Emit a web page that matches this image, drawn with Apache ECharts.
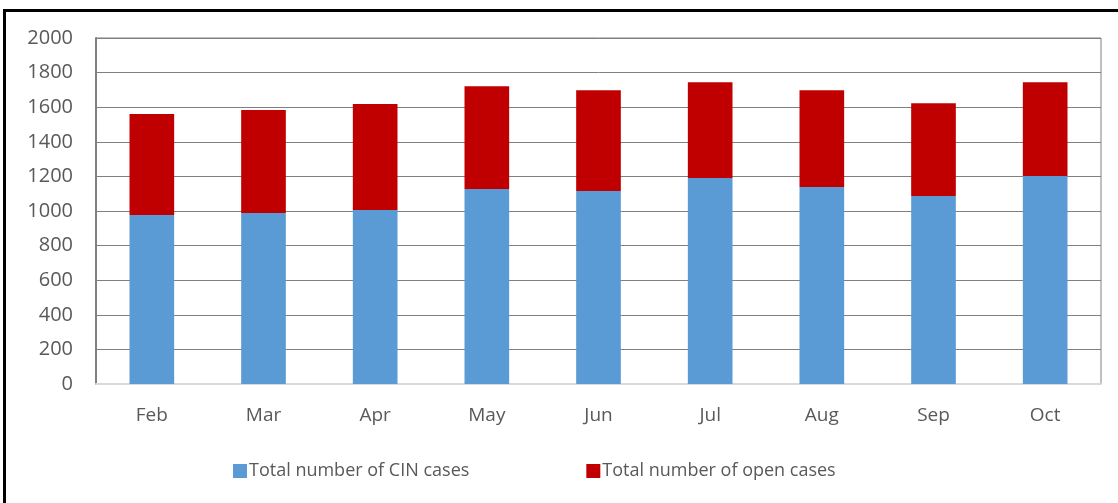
<!DOCTYPE html>
<html>
<head>
<meta charset="utf-8">
<script src="https://cdn.jsdelivr.net/npm/echarts@6/dist/echarts.min.js"></script>
<style>
  html, body {margin: 0; padding: 0; background: #fff;}
  #main {width: 1118px; height: 503px;}
</style>
</head>
<body>
<div id="main"></div>
<script>
  var months = ['Feb', 'Mar', 'Apr', 'May', 'Jun', 'Jul', 'Aug', 'Sep', 'Oct'];
  var cinCases = [977, 988, 1006, 1127, 1116, 1191, 1139, 1087, 1202];
  var openCases = [584, 596, 612, 594, 582, 553, 559, 536, 542];
  var seriesNames = ['Total number of CIN cases', 'Total number of open cases'];

  var chart = echarts.init(document.getElementById('main'));
  var font = '"Open Sans", sans-serif';
  chart.setOption({
    animation: false,
    textStyle: {fontFamily: font},
    graphic: [{
      type: 'polyline',
      shape: {points: [[4.5, 503], [4.5, 10.5], [1118, 10.5]]},
      style: {stroke: '#000', lineWidth: 3, fill: null}
    }],
    grid: {left: 96, right: 17, top: 38, bottom: 119, show: true, borderColor: '#808080', borderWidth: 1},
    legend: {
      data: seriesNames,
      bottom: 18,
      left: 228,
      itemWidth: 14, itemHeight: 14, itemGap: 117,
      icon: 'rect',
      textStyle: {color: '#595959', fontSize: 18, fontFamily: font, padding: [0, 0, 0, -3]}
    },
    xAxis: {
      type: 'category',
      data: months,
      axisLine: {lineStyle: {color: '#d9d9d9', width: 2}},
      axisTick: {show: false},
      axisLabel: {color: '#595959', fontSize: 19, margin: 22}
    },
    yAxis: {
      type: 'value',
      min: 0, max: 2000, interval: 200,
      axisLine: {show: true, lineStyle: {color: '#808080', width: 2}},
      axisTick: {show: false},
      axisLabel: {color: '#595959', fontSize: 20, margin: 23, formatter: function (v) { return String(v); }},
      splitLine: {lineStyle: {color: '#808080', width: 1}}
    },
    series: [
      {name: seriesNames[0], type: 'bar', stack: 'total', barWidth: '40%', itemStyle: {color: '#5b9bd5'}, data: cinCases},
      {name: seriesNames[1], type: 'bar', stack: 'total', barWidth: '40%', itemStyle: {color: '#c00000'}, data: openCases}
    ]
  });
</script>
</body>
</html>
